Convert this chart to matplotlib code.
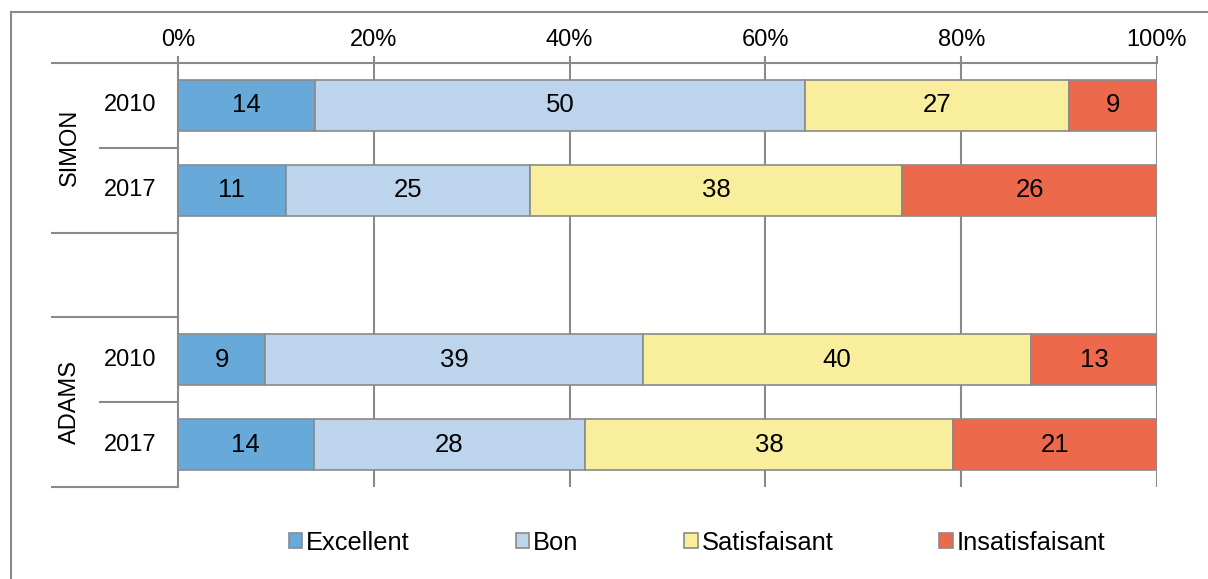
import matplotlib
matplotlib.use("Agg")
import matplotlib.pyplot as plt
import numpy as np
from matplotlib.transforms import blended_transform_factory
from matplotlib.patches import Patch
from matplotlib.lines import Line2D

plt.rcParams['font.family'] = ['Liberation Sans', 'DejaVu Sans']

# Rows from top to bottom (None = empty spacer slot)
groups = ["SIMON", "SIMON", None, "ADAMS", "ADAMS"]
years = ["2010", "2017", "", "2010", "2017"]
series = ["Excellent", "Bon", "Satisfaisant", "Insatisfaisant"]
excellent = [14, 11, None, 9, 14]
bon = [50, 25, None, 39, 28]
satisfaisant = [27, 38, None, 40, 38]
insatisfaisant = [9, 26, None, 13, 21]
colors = ["#67A9D8", "#BDD5EC", "#F8EE9B", "#EC6A4B"]
xticks = [0, 20, 40, 60, 80, 100]

GRAY = "#8A8A8A"
FS = 17
FS_VAL = 18.5

fig = plt.figure(figsize=(12.08, 5.79), dpi=100)
W, H = 1208, 579
ax = fig.add_axes([178 / W, 1 - 487 / H, (1157 - 178) / W, (487 - 63) / H])

table = np.array([excellent, bon, satisfaisant, insatisfaisant], dtype=object).T
ypos = np.arange(len(groups))
for i, row in enumerate(table):
    if row[0] is None:
        continue
    vals = np.array(row, dtype=float)
    share = vals / vals.sum() * 100
    left = 0.0
    for j, (v, s) in enumerate(zip(vals, share)):
        ax.barh(ypos[i], s, left=left, height=0.6, color=colors[j],
                edgecolor=GRAY, linewidth=1.2, zorder=3)
        ax.text(left + s / 2, ypos[i], f"{int(v)}", ha="center", va="center",
                fontsize=FS_VAL, color="black", zorder=4)
        left += s

ax.set_xlim(0, 100)
ax.set_ylim(len(groups) - 0.5, -0.5)
ax.xaxis.tick_top()
ax.set_xticks(xticks)
ax.set_xticklabels([f"{t}%" for t in xticks], fontsize=FS)
ax.tick_params(axis="x", direction="out", length=5, width=1.5, color=GRAY, pad=4)
ax.set_yticks([])
for x in xticks[1:]:
    ax.axvline(x, color=GRAY, linewidth=1.5, zorder=1)
for side in ["bottom", "right"]:
    ax.spines[side].set_visible(False)
for side in ["top", "left"]:
    ax.spines[side].set_color(GRAY)
    ax.spines[side].set_linewidth(1.5)

# Two-level category axis on the left
tr = blended_transform_factory(ax.transAxes, ax.transData)
outer_x = (52 - 178) / (1157 - 178)
inner_x = (100 - 178) / (1157 - 178)
for yb, x0 in [(-0.5, outer_x), (0.5, inner_x), (1.5, outer_x), (2.5, outer_x),
               (3.5, inner_x), (4.5, outer_x)]:
    ax.add_line(Line2D([x0, 0], [yb, yb], transform=tr, color=GRAY,
                       linewidth=1.5, clip_on=False))
year_x = (130 - 178) / (1157 - 178)
for i, yr in enumerate(years):
    if yr:
        ax.text(year_x, ypos[i], yr, transform=tr, ha="center", va="center",
                fontsize=FS)
group_x = (70 - 178) / (1157 - 178)
for name, yc in [("SIMON", 0.5), ("ADAMS", 3.5)]:
    ax.text(group_x, yc, name, transform=tr, ha="center", va="center",
            rotation=90, fontsize=FS)

# Chart-area frame
fig.add_artist(Line2D([10.5 / W, 10.5 / W], [0, 1 - 12 / H], transform=fig.transFigure,
                      color=GRAY, linewidth=1.5))
fig.add_artist(Line2D([10.5 / W, 1], [1 - 12 / H, 1 - 12 / H], transform=fig.transFigure,
                      color=GRAY, linewidth=1.5))

handles = [Patch(facecolor=c, edgecolor=GRAY, linewidth=1.2) for c in colors]
fig.legend(handles, series, loc="center", bbox_to_anchor=(697 / W, 1 - 543 / H),
           ncol=4, frameon=False, fontsize=18.4, handlelength=0.52, handleheight=0.52,
           handletextpad=0.15, columnspacing=4.15)

fig.savefig("out.png", dpi=100)
